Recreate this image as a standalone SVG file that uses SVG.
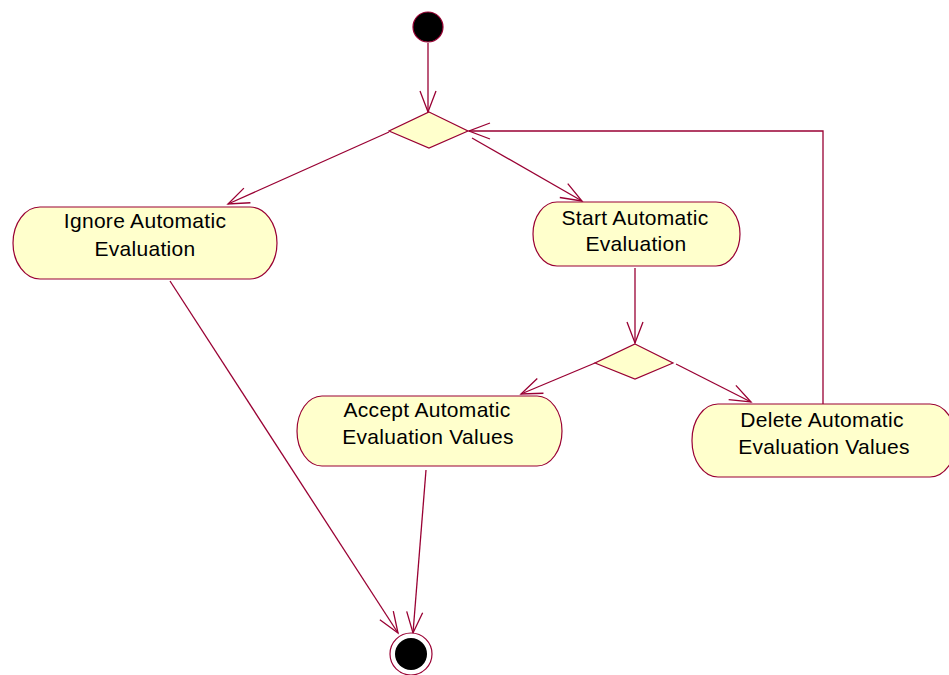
<svg xmlns="http://www.w3.org/2000/svg" width="949" height="675" viewBox="0 0 949 675">
<style>
.act{fill:#FFFFCC;stroke:#990033;stroke-width:1.2}
.dec{fill:#FFFFCC;stroke:#990033;stroke-width:1.2}
.lbl{font-family:"Liberation Sans",Arial,sans-serif;font-size:21px;fill:#000;text-anchor:middle;letter-spacing:0.3px}
.edge{fill:none;stroke:#990033;stroke-width:1.3}
</style>
<defs>
<marker id="arr" markerUnits="userSpaceOnUse" markerWidth="30" markerHeight="30" viewBox="-25 -15 30 30" refX="0" refY="0" orient="auto">
<path d="M-21,-8 L0,0 L-21,8" fill="none" stroke="#990033" stroke-width="1.3"/>
</marker>
</defs>
<rect width="949" height="675" fill="#fff"/>
<g id="connectors">
<line class="edge" x1="428" y1="43" x2="428" y2="112" marker-end="url(#arr)"/>
<line class="edge" x1="389" y1="132" x2="228" y2="204" marker-end="url(#arr)"/>
<line class="edge" x1="472" y1="138" x2="582" y2="201" marker-end="url(#arr)"/>
<line class="edge" x1="635" y1="268" x2="635" y2="343" marker-end="url(#arr)"/>
<line class="edge" x1="595" y1="363" x2="521" y2="394" marker-end="url(#arr)"/>
<line class="edge" x1="676" y1="364" x2="751" y2="402" marker-end="url(#arr)"/>
<polyline class="edge" points="823,404 823,131 469,131" marker-end="url(#arr)"/>
<line class="edge" x1="170" y1="281" x2="398" y2="633" marker-end="url(#arr)"/>
<line class="edge" x1="426" y1="470" x2="413" y2="633" marker-end="url(#arr)"/>
</g>
<g id="start">
<circle cx="428" cy="27" r="15" fill="#000" stroke="#990033" stroke-width="1.2"/>
</g>
<g id="decision1">
<polygon class="dec" points="429,112 468,131 429,148 389,131"/>
</g>
<g id="ignore">
<rect class="act" x="13" y="207" width="264" height="72" rx="27" ry="36"/>
<text class="lbl" x="145" y="228">Ignore Automatic</text>
<text class="lbl" x="145" y="256">Evaluation</text>
</g>
<g id="startEval">
<rect class="act" x="533" y="202" width="207" height="64" rx="24" ry="32"/>
<text class="lbl" x="635" y="225">Start Automatic</text>
<text class="lbl" x="636" y="251">Evaluation</text>
</g>
<g id="decision2">
<polygon class="dec" points="635,344 673,363 635,379 595,363"/>
</g>
<g id="accept">
<rect class="act" x="297" y="396" width="265" height="70" rx="25" ry="35"/>
<text class="lbl" x="427" y="417">Accept Automatic</text>
<text class="lbl" x="428" y="444">Evaluation Values</text>
</g>
<g id="delete">
<rect class="act" x="692" y="404" width="264" height="73" rx="26" ry="36"/>
<text class="lbl" x="822" y="427">Delete Automatic</text>
<text class="lbl" x="824" y="454">Evaluation Values</text>
</g>
<g id="end">
<circle cx="411" cy="654" r="21" fill="#fff" stroke="#990033" stroke-width="1.2"/>
<circle cx="411" cy="654" r="16" fill="#000"/>
</g>
</svg>
